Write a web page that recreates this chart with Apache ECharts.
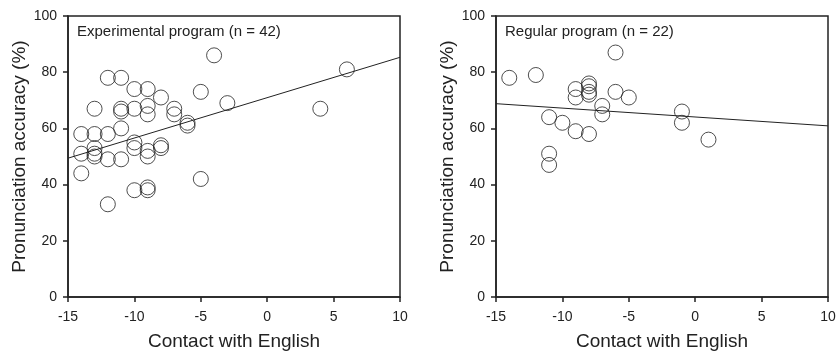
<!DOCTYPE html>
<html>
<head>
<meta charset="utf-8">
<script src="https://cdn.jsdelivr.net/npm/echarts@6/dist/echarts.min.js"></script>
<style>
  html, body { margin: 0; padding: 0; background: #fff; }
  #chart { width: 840px; height: 356px; }
</style>
</head>
<body>
<div id="chart"></div>
<script>
// experimental program: [contact, accuracy]
const experimentalPoints = [
  [-14, 58], [-14, 51], [-14, 44],
  [-13, 67], [-13, 58], [-13, 53], [-13, 51], [-13, 50],
  [-12, 78], [-12, 58], [-12, 49], [-12, 33],
  [-11, 78], [-11, 67], [-11, 66], [-11, 60], [-11, 49],
  [-10, 74], [-10, 67], [-10, 55], [-10, 53], [-10, 38],
  [-9, 74], [-9, 68], [-9, 65], [-9, 52], [-9, 50], [-9, 39], [-9, 38],
  [-8, 71], [-8, 54], [-8, 53],
  [-7, 67], [-7, 65],
  [-6, 62], [-6, 61],
  [-5, 73], [-5, 42],
  [-4, 86], [-3, 69], [4, 67], [6, 81]
];
// regular program
const regularPoints = [
  [-14, 78], [-12, 79],
  [-11, 64], [-11, 51], [-11, 47],
  [-10, 62],
  [-9, 74], [-9, 71], [-9, 59],
  [-8, 76], [-8, 75], [-8, 73], [-8, 72], [-8, 58],
  [-7, 68], [-7, 65],
  [-6, 87], [-6, 73],
  [-5, 71],
  [-1, 66], [-1, 62], [1, 56]
];
// fitted lines (end points)
const experimentalFit = [[-15, 49.4], [10, 85.3]];
const regularFit = [[-15, 68.8], [10, 60.9]];
const panelTitles = ['Experimental program (n = 42)', 'Regular program (n = 22)'];
const xLabel = 'Contact with English';
const yLabel = 'Pronunciation accuracy (%)';

const font = 'Liberation Sans, Arial, sans-serif';
const myChart = echarts.init(document.getElementById('chart'));

function xAxisFor(i) {
  return {
    gridIndex: i, type: 'value', min: -15, max: 10, interval: 5,
    name: xLabel, nameLocation: 'middle', nameGap: 35,
    nameTextStyle: { fontFamily: font, fontSize: 19, color: '#222' },
    axisLine: { onZero: false, lineStyle: { color: '#222', width: 1.5 } },
    axisTick: { length: 5, lineStyle: { color: '#222', width: 1.5 } },
    axisLabel: { margin: 13, fontFamily: font, fontSize: 14, color: '#222' },
    splitLine: { show: false }
  };
}
function yAxisFor(i) {
  return {
    gridIndex: i, type: 'value', min: 0, max: 100, interval: 20,
    name: yLabel, nameLocation: 'middle', nameGap: 33,
    nameTextStyle: { fontFamily: font, fontSize: 19, color: '#222' },
    axisLine: { onZero: false, lineStyle: { color: '#222', width: 1.5 } },
    axisTick: { length: 5, lineStyle: { color: '#222', width: 1.5 } },
    axisLabel: { margin: 11, fontFamily: font, fontSize: 14, color: '#222' },
    splitLine: { show: false }
  };
}
function scatterFor(i, data) {
  return {
    type: 'scatter', xAxisIndex: i, yAxisIndex: i, data: data,
    symbol: 'circle', symbolSize: 15,
    itemStyle: { color: 'rgba(0,0,0,0)', borderColor: '#222', borderWidth: 1 },
    emphasis: { disabled: true }, z: 3
  };
}
function fitFor(i, data) {
  return {
    type: 'line', xAxisIndex: i, yAxisIndex: i, data: data,
    symbol: 'none', lineStyle: { color: '#222', width: 1 },
    silent: true, z: 2
  };
}

const option = {
  animation: false,
  backgroundColor: '#fff',
  title: [
    { text: panelTitles[0], left: 72, top: 19,
      textStyle: { fontFamily: font, fontSize: 15, fontWeight: 'normal', color: '#222' } },
    { text: panelTitles[1], left: 500, top: 19,
      textStyle: { fontFamily: font, fontSize: 15, fontWeight: 'normal', color: '#222' } }
  ],
  grid: [
    { left: 68, right: 440, top: 16, bottom: 54, show: true, borderColor: '#222', borderWidth: 1.5 },
    { left: 496, right: 12, top: 16, bottom: 54, show: true, borderColor: '#222', borderWidth: 1.5 }
  ],
  xAxis: [xAxisFor(0), xAxisFor(1)],
  yAxis: [yAxisFor(0), yAxisFor(1)],
  series: [
    scatterFor(0, experimentalPoints),
    fitFor(0, experimentalFit),
    scatterFor(1, regularPoints),
    fitFor(1, regularFit)
  ]
};
myChart.setOption(option);
</script>
</body>
</html>
